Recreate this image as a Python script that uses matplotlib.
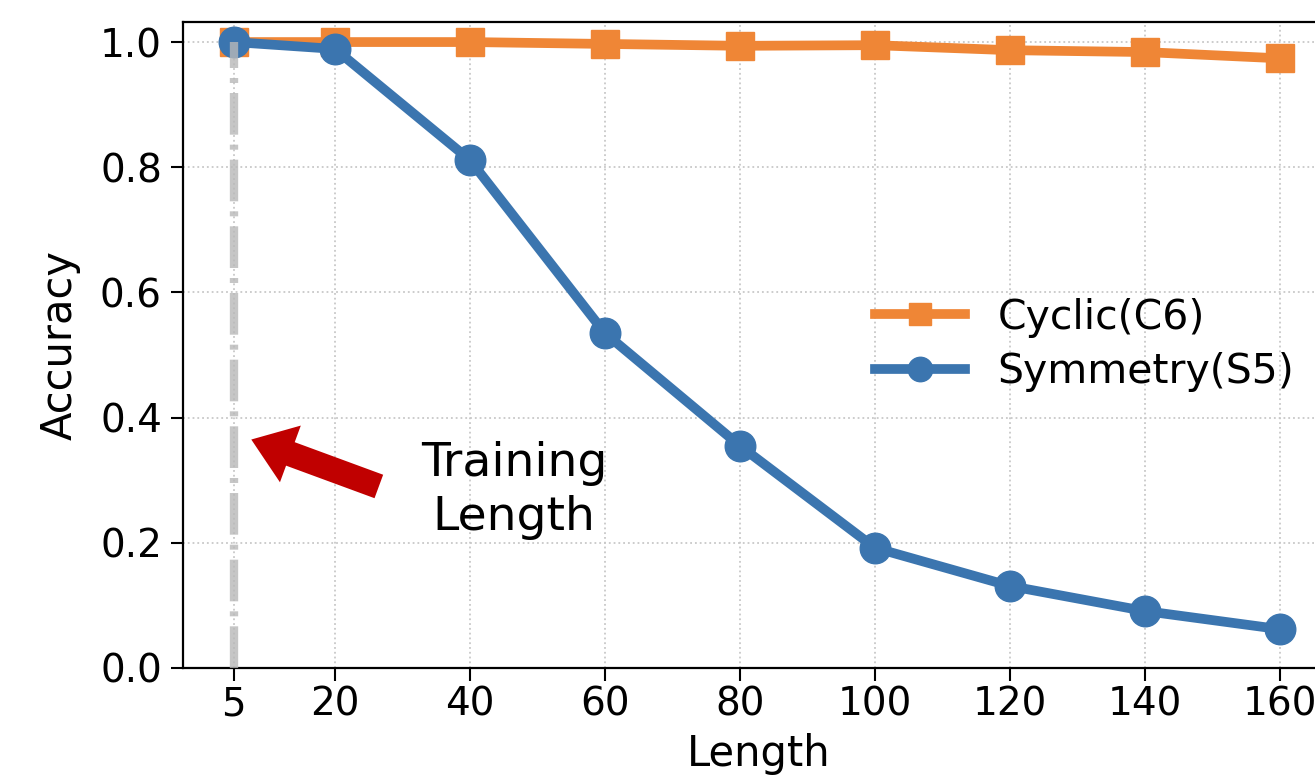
import matplotlib

matplotlib.use("Agg")
import matplotlib.pyplot as plt

lengths = [5, 20, 40, 60, 80, 100, 120, 140, 160]
cyclic_acc = [1.0, 1.0, 1.0, 0.997, 0.994, 0.995, 0.987, 0.984, 0.974]
symmetry_acc = [1.0, 0.989, 0.8115, 0.535, 0.355, 0.192, 0.131, 0.091, 0.062]
x_ticks = [5, 20, 40, 60, 80, 100, 120, 140, 160]
y_ticks = [0.0, 0.2, 0.4, 0.6, 0.8, 1.0]
train_len = 5

ORANGE = "#ef8636"
BLUE = "#3b75af"

plt.rcParams["font.family"] = "DejaVu Sans"

fig = plt.figure(figsize=(13.15, 7.81), dpi=100)
# right edge runs past the canvas, as in the cropped original
ax = fig.add_axes([0.139, 0.1447, 0.8753, 0.8271])

ax.plot(lengths, cyclic_acc, color=ORANGE, lw=7, marker="s", ms=20,
        label="Cyclic(C6)", zorder=3)
ax.plot(lengths, symmetry_acc, color=BLUE, lw=7, marker="o", ms=22,
        label="Symmetry(S5)", zorder=4)
ax.plot([train_len, train_len], [0, 1.0], color="#b8b8b8", lw=6,
        ls=(0, (5, 1.2, 0.6, 1.2)), alpha=0.8, zorder=5)

ax.annotate("", xy=(7.6, 0.365), xytext=(26.5, 0.29),
            arrowprops=dict(arrowstyle="simple,head_length=1.0,head_width=1.45,tail_width=0.6",
                            color="#c00000", lw=0, shrinkA=0, shrinkB=0,
                            mutation_scale=30),
            zorder=6)
ax.text(46.5, 0.284, "Training\nLength", fontsize=34, ha="center", va="center",
        linespacing=1.25)

ax.set_xlim(-2.55, 168)
ax.set_ylim(0, 1.032)
ax.set_xticks(x_ticks)
ax.set_yticks(y_ticks)
ax.set_yticklabels([f"{v:.1f}" for v in y_ticks])
ax.tick_params(labelsize=28, length=9, width=1.5)
ax.tick_params(axis="y", pad=6)
ax.grid(True, ls=":", color="#c8c8c8", lw=1.3)
ax.set_xlabel("Length", fontsize=30, labelpad=7)
ax.set_ylabel("Accuracy", fontsize=30, labelpad=14)
for s in ax.spines.values():
    s.set_linewidth(1.6)

ax.legend(loc="center left", bbox_to_anchor=(0.569, 0.5), frameon=False,
          fontsize=29.5, handlelength=2.2, handletextpad=0.8, markerscale=0.8,
          labelspacing=0.35)

fig.savefig("out.png", dpi=100)
